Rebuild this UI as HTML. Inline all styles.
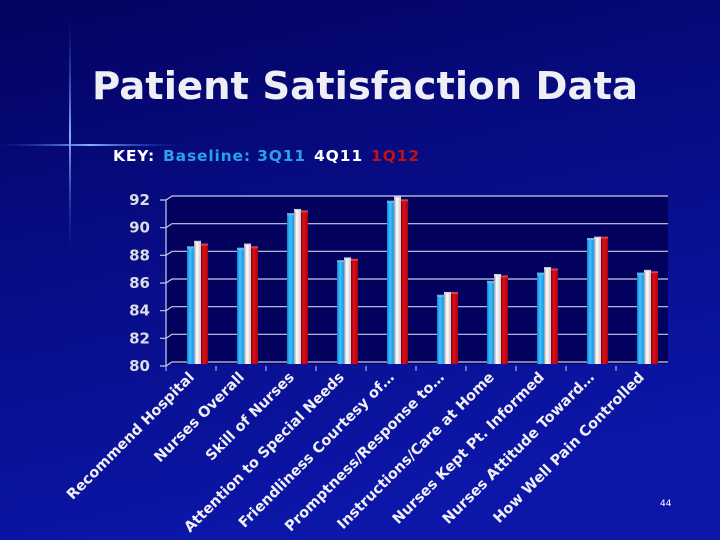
<!DOCTYPE html>
<html><head><meta charset="utf-8"><style>
html,body{margin:0;padding:0;width:720px;height:540px;overflow:hidden;background:#05056e;}
svg{display:block;font-family:"DejaVu Sans","Liberation Sans",sans-serif;}
</style></head><body>
<svg id="c" width="720" height="540" viewBox="0 0 720 540">
<defs>
<linearGradient id="bg" x1="0" y1="0" x2="0.3" y2="1">
<stop offset="0" stop-color="#03035f"/><stop offset="0.35" stop-color="#060a7c"/><stop offset="1" stop-color="#0c16a8"/></linearGradient>
<linearGradient id="gb" x1="0" x2="1"><stop offset="0" stop-color="#0f7fd0"/><stop offset="0.4" stop-color="#3cc0ff"/><stop offset="1" stop-color="#1c98e4"/></linearGradient>
<linearGradient id="gw" x1="0" x2="1"><stop offset="0" stop-color="#9a9aa8"/><stop offset="0.4" stop-color="#ffffff"/><stop offset="1" stop-color="#c8c8d2"/></linearGradient>
<linearGradient id="gr" x1="0" x2="1"><stop offset="0" stop-color="#8a0008"/><stop offset="0.4" stop-color="#e01018"/><stop offset="1" stop-color="#a8000c"/></linearGradient>
<linearGradient id="hl" x1="0" x2="1"><stop offset="0" stop-color="#2a4fd0" stop-opacity="0"/><stop offset="0.5" stop-color="#8ab0ff"/><stop offset="1" stop-color="#2a4fd0" stop-opacity="0"/></linearGradient>
<linearGradient id="vl" x1="0" y1="0" x2="0" y2="1"><stop offset="0" stop-color="#2a4fd0" stop-opacity="0"/><stop offset="0.5" stop-color="#8ab0ff"/><stop offset="1" stop-color="#2a4fd0" stop-opacity="0"/></linearGradient>
</defs>
<rect width="720" height="540" fill="url(#bg)"/>
<rect x="0" y="144" width="180" height="2" fill="url(#hl)"/>
<rect x="69" y="20" width="2" height="230" fill="url(#vl)"/>
<text x="92" y="99" font-size="38" font-weight="bold" fill="#eeeef4" textLength="546" lengthAdjust="spacingAndGlyphs">Patient Satisfaction Data</text>
<text x="113" y="161" font-size="15.5" font-weight="bold" textLength="306" lengthAdjust="spacing"><tspan fill="#ffffff">KEY:</tspan><tspan fill="#2aa0ec" dx="8">Baseline: 3Q11</tspan><tspan fill="#ffffff" dx="8">4Q11</tspan><tspan fill="#c01018" dx="8">1Q12</tspan></text>
<rect x="167" y="196" width="501" height="168" fill="#02025e"/>
<g id="grid"></g><g id="bars"></g><g id="labels"></g>
<text x="660" y="506" font-size="9" fill="#ffffff">44</text>
</svg>
<script>
const categories=["Recommend Hospital","Nurses Overall","Skill of Nurses","Attention to Special Needs","Friendliness Courtesy of…","Promptness/Response to…","Instructions/Care at Home","Nurses Kept Pt. Informed","Nurses Attitude Toward…","How Well Pain Controlled"];
const base3Q11=[88.4,88.3,90.8,87.4,91.7,84.9,85.9,86.5,89.0,86.5];
const q4Q11=[88.8,88.6,91.1,87.6,92.0,85.1,86.4,86.9,89.1,86.7];
const q1Q12=[88.6,88.4,91.0,87.5,91.8,85.1,86.3,86.8,89.1,86.6];
const yTicks=[80,82,84,86,88,90,92];
const NS="http://www.w3.org/2000/svg";
const x0=166,x1=666,yMin=80,yMax=92,py0=364,py1=198;
function y(v){return py0-(v-yMin)/(yMax-yMin)*(py0-py1);}
function xc(i){return x0+(i+0.5)*(x1-x0)/categories.length;}
function mk(t,a,p){const e=document.createElementNS(NS,t);for(const k in a)e.setAttribute(k,a[k]);p.appendChild(e);return e;}
const grid=document.getElementById('grid');
yTicks.forEach(t=>{
 const yy=y(t);
 const l=mk('polyline',{points:`160,${yy+2} 166,${yy+2} 172,${yy-2} 668,${yy-2}`,fill:'none',stroke:'#c8cce8','stroke-width':1.2},grid);
 
 
 const tx=mk('text',{x:150,y:yy+7,'font-size':15,'font-weight':'bold',fill:'#dcdce6','text-anchor':'end'},grid);
 tx.textContent=t;
 
 
});
mk('line',{x1:166,y1:y(80)+2,x2:166,y2:y(92)+2,stroke:'#c8cce8','stroke-width':1.2},grid);
categories.forEach((c,i)=>{
 const tx=x0+i*(x1-x0)/categories.length;
 mk('line',{x1:tx,y1:y(80)+2,x2:tx,y2:y(80)+7,stroke:'#c8cce8'},grid);
});
const bars=document.getElementById('bars');
const series=[[base3Q11,'url(#gb)','#7fd8ff','3q11'],[q4Q11,'url(#gw)','#ffffff','4q11'],[q1Q12,'url(#gr)','#ff5050','1q12']];
const bw=7;
categories.forEach((c,i)=>{
 series.forEach((s,j)=>{
  const v=s[0][i];const bx=xc(i)-4+j*bw;const top=y(v);
  const r=mk('rect',{x:bx,y:top,width:bw,height:y(80)-top,fill:s[1]},bars);
  
  
  mk('rect',{x:bx,y:top-1.5,width:bw,height:2,fill:s[2],opacity:0.8},bars);
 });
});
const labels=document.getElementById('labels');
categories.forEach((c,i)=>{
 const ax=xc(i)+4,ay=378;
 const t=mk('text',{x:0,y:0,'font-size':14.5,'font-weight':'bold',fill:'#f0f0f6','text-anchor':'end',transform:`translate(${ax},${ay}) rotate(-45)`},labels);
 t.textContent=c;
 
 
});
</script>
</body></html>
